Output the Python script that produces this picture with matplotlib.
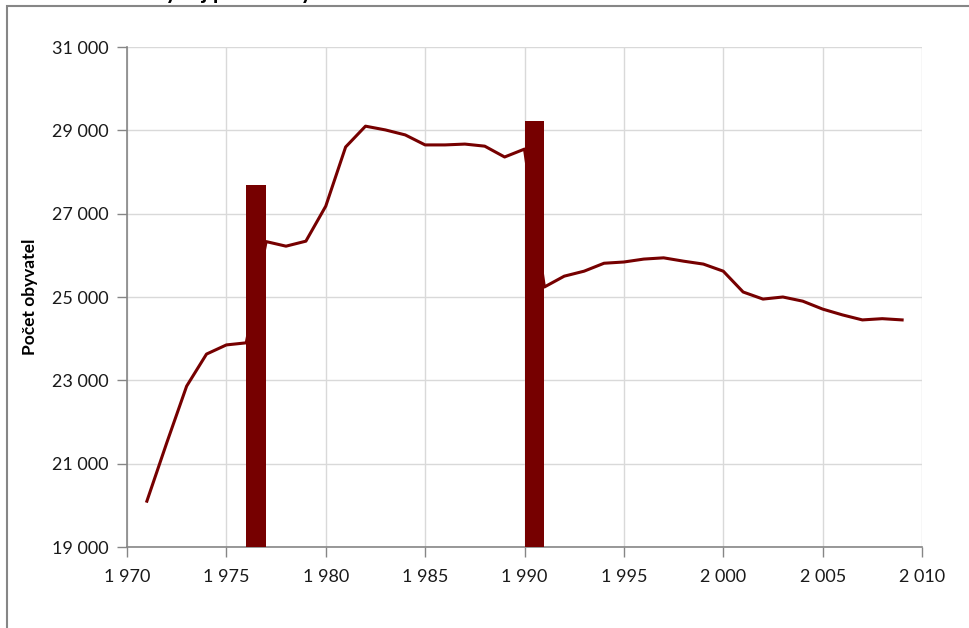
import matplotlib.pyplot as plt
from matplotlib.patches import Rectangle
from matplotlib.ticker import FuncFormatter

plt.rcParams['font.family'] = ['Lato', 'DejaVu Sans']

# pocet obyvatel podle roku
years = [1971, 1972, 1973, 1974, 1975, 1976, 1977, 1978, 1979, 1980,
         1981, 1982, 1983, 1984, 1985, 1986, 1987, 1988, 1989, 1990,
         1991, 1992, 1993, 1994, 1995, 1996, 1997, 1998, 1999, 2000,
         2001, 2002, 2003, 2004, 2005, 2006, 2007, 2008, 2009]
population = [20100, 21500, 22860, 23630, 23850, 23900, 26330, 26220, 26340, 27180,
              28600, 29100, 29010, 28890, 28650, 28650, 28670, 28620, 28360, 28550,
              25240, 25500, 25620, 25810, 25840, 25910, 25940, 25860, 25790, 25620,
              25120, 24950, 25000, 24900, 24710, 24570, 24450, 24480, 24450]

# sloupce (zmeny)
bar_years = [1976, 1990]
bar_tops = [27700, 29220]

y_min, y_max = 19000, 31000
yticks = list(range(19000, 31001, 2000))
xticks = list(range(1970, 2011, 5))

red = '#760000'

fig = plt.figure(figsize=(9.7, 6.28), dpi=100)
ax = fig.add_axes([127 / 970, 1 - 547 / 628, 795 / 970, 500 / 628])

ax.plot(years, population, color=red, lw=2.2, zorder=3)
ax.bar(bar_years, [t - y_min for t in bar_tops], bottom=y_min, width=1.0,
       align='edge', color=red, zorder=4)

ax.set_xlim(1970, 2010)
ax.set_ylim(y_min, y_max)
ax.set_xticks(xticks)
ax.set_yticks(yticks)
fmt = FuncFormatter(lambda v, p: f'{int(v):,}'.replace(',', ' '))
ax.xaxis.set_major_formatter(fmt)
ax.yaxis.set_major_formatter(fmt)

ax.grid(True, color='#d9d9d9', lw=1, zorder=0)
for s in ['top', 'right']:
    ax.spines[s].set_visible(False)
for s in ['left', 'bottom']:
    ax.spines[s].set_color('#868686')
    ax.spines[s].set_linewidth(1.2)
ax.tick_params(colors='#868686', length=7, width=1, labelcolor='#1a1a1a', labelsize=13)
ax.tick_params(axis='x', pad=9)
ax.tick_params(axis='y', pad=6)

ax.set_ylabel('Počet obyvatel', fontsize=12.5, fontweight='bold')
ax.yaxis.set_label_coords(-89 / 795, 0.5)

fig.text(150 / 970, 1 + 1 / 628, 'Vývoj počtu obyvatel', fontsize=16,
         fontweight='bold', va='baseline', ha='left')

fig.patches.append(Rectangle((7 / 970, -0.1), 1.2, 1.1 - 6 / 628, fill=False,
                             edgecolor='#868686', lw=1.5, transform=fig.transFigure))

fig.savefig('out.png', dpi=100)
